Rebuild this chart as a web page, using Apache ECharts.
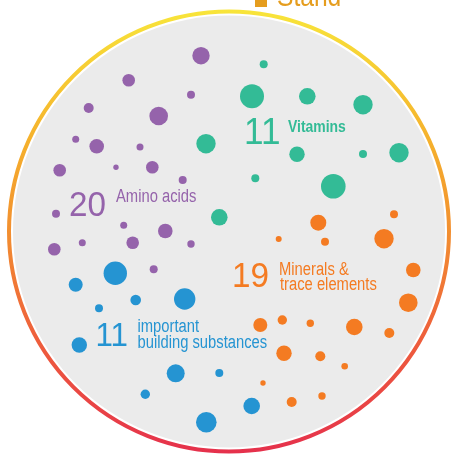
<!DOCTYPE html>
<html>
<head>
<meta charset="utf-8">
<script src="https://cdn.jsdelivr.net/npm/echarts@6/dist/echarts.min.js"></script>
<style>
  html, body { margin: 0; padding: 0; background: #fff; }
  #chart { width: 454px; height: 455px; }
</style>
</head>
<body>
<div id="chart"></div>
<script>
// groups shown in the circle
const groupNames = ['Amino acids', 'Vitamins', 'Minerals & trace elements', 'important building substances'];
const groupCounts = [20, 11, 19, 11];

// dots per group: [x, y, radius]
const aminoDots = [
  [201, 55.7, 8.7], [128.7, 80.3, 6.3], [191, 94.7, 4], [88.7, 108, 5], [158.7, 116, 9.3],
  [75.7, 139.3, 3.5], [96.7, 146.3, 7.3], [140, 147, 3.5], [59.7, 170.3, 6.3], [116, 167.3, 2.7],
  [152.3, 167.3, 6.3], [182.7, 180, 4], [56, 213.7, 4], [123.7, 225.3, 3.5], [165.3, 231, 7.3],
  [82.3, 242.7, 3.5], [132.7, 242.7, 6.3], [191, 244, 3.7], [54.3, 249.3, 6.3], [153.7, 269.3, 4],
];
const vitaminDots = [
  [263.7, 64.3, 4], [252, 96.3, 12], [307.3, 96.3, 8.3], [363, 104.7, 9.7], [206, 143.7, 9.7],
  [297, 154.3, 7.7], [363, 154, 4], [399, 152.7, 9.7], [255.3, 178.3, 4], [333.3, 186.3, 12.3],
  [219.3, 217.3, 8.3],
];
const mineralDots = [
  [318.3, 222.7, 8], [394, 214.3, 4], [278.7, 239, 3], [325, 241.7, 4], [384, 238.7, 9.7],
  [413.3, 270, 7.3], [408.3, 302.7, 9.3], [260.3, 325, 7], [282.3, 320, 4.7], [310.3, 323.3, 3.7],
  [354.3, 327, 8.3], [389.3, 333, 5], [284, 353.3, 7.7], [320.3, 356.3, 5], [344.7, 366.3, 3.3],
  [263, 383, 2.7], [291.7, 402, 5], [322, 396, 3.7],
];
const buildingDots = [
  [115.3, 273.3, 11.7], [75.7, 284.7, 7], [135.7, 300, 5.3], [184.7, 299, 10.7], [99, 308.3, 4],
  [79.3, 345, 7.7], [175.7, 373.3, 9], [219.3, 373, 4], [145.3, 394.3, 4.7], [206.3, 422.3, 10.3],
  [251.7, 406, 8.3],
];

const colors = ['#9563ab', '#33bb96', '#f47b22', '#2594d2'];
// no narrow face installed, so squeeze Liberation Sans instead
const font = "'Liberation Sans', Arial, sans-serif";

const chart = echarts.init(document.getElementById('chart'), null, { renderer: 'canvas' });

const dotSeries = (name, dots, color) => ({
  name,
  type: 'scatter',
  data: dots,
  symbol: 'circle',
  symbolSize: (d) => d[2] * 2,
  itemStyle: { color, opacity: 1 },
  silent: true,
  z: 3,
});

const label = (text, x, y, size, color, weight = 'normal', squeeze = 0.82) => ({
  type: 'text',
  x,
  y,
  scaleX: squeeze,
  z: 10,
  silent: true,
  style: {
    text,
    fill: color,
    font: `${weight} ${size}px ${font}`,
    textVerticalAlign: 'middle',
  },
});

const bigNumber = (value, x, y, size, color) => label(String(value), x, y, size, color, 'normal', 0.95);

chart.setOption({
  animation: false,
  grid: { left: 0, right: 0, top: 0, bottom: 0 },
  xAxis: { type: 'value', min: 0, max: 454, show: false },
  yAxis: { type: 'value', min: 0, max: 455, inverse: true, show: false },
  graphic: [
    {
      type: 'circle',
      shape: { cx: 229, cy: 231.5, r: 220 },
      z: 0,
      silent: true,
      style: {
        fill: 'none',
        lineWidth: 4,
        stroke: new echarts.graphic.LinearGradient(0, 0, 0, 1, [
          { offset: 0, color: '#f8e53a' },
          { offset: 0.3, color: '#f5b02c' },
          { offset: 0.5, color: '#f28f30' },
          { offset: 0.75, color: '#ee5d3c' },
          { offset: 1, color: '#e5304c' },
        ]),
      },
    },
    {
      type: 'circle',
      shape: { cx: 229, cy: 231.5, r: 216 },
      z: 1,
      silent: true,
      style: { fill: '#ebebeb' },
    },
    // legend stub cut off at the top
    { type: 'rect', shape: { x: 255, y: -5, width: 12, height: 12 }, z: 10, style: { fill: '#e59d1e' } },
    label('Stand', 277, -2.5, 30, '#e59d1e'),
    bigNumber(groupCounts[1], 244, 133.5, 37, colors[1]),
    label(groupNames[1], 288, 127.4, 17, colors[1], 'bold'),
    bigNumber(groupCounts[0], 69, 206, 35, colors[0]),
    label(groupNames[0], 116, 197, 18, colors[0]),
    bigNumber(groupCounts[2], 232, 277.5, 35, colors[2]),
    label('Minerals &', 279, 269.7, 18, colors[2]),
    label('trace elements', 280, 285.4, 18, colors[2]),
    bigNumber(groupCounts[3], 95.5, 337, 33, colors[3]),
    label('important', 137.5, 327, 18, colors[3]),
    label('building substances', 137.5, 343, 18, colors[3]),
  ],
  series: [
    dotSeries(groupNames[0], aminoDots, colors[0]),
    dotSeries(groupNames[1], vitaminDots, colors[1]),
    dotSeries(groupNames[2], mineralDots, colors[2]),
    dotSeries(groupNames[3], buildingDots, colors[3]),
  ],
});
</script>
</body>
</html>
